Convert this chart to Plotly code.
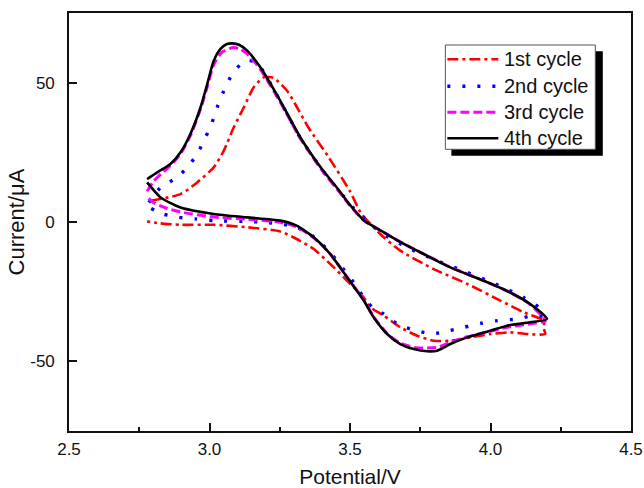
import plotly.graph_objects as go

# ---- data (Potential / V, Current / uA) ----
c1_x = [2.790, 2.897, 2.956, 3.015, 3.051, 3.086, 3.122, 3.157, 3.193, 3.228, 3.276, 3.318, 3.352,
        3.425, 3.500, 3.540, 3.573, 3.620, 3.679, 3.798, 3.917, 4.035, 4.118, 4.189, 4.190,
        4.195, 4.130, 4.070, 4.000, 3.929, 3.857, 3.798, 3.739, 3.679, 3.620, 3.573, 3.549,
        3.490, 3.430, 3.371, 3.310, 3.252, 3.134, 3.015, 2.897, 2.826, 2.778]
c1_y = [7.6, 10.0, 14.2, 19.6, 25.6, 33.9, 41.1, 48.3, 51.9, 51.7, 47.1, 40.0, 33.9,
        23.1, 11.0, 3.0, -0.7, -5.5, -10.3, -16.9, -22.2, -28.2, -32.4, -35.4, -38.4,
        -40.2, -40.2, -39.6, -40.2, -41.4, -42.6, -42.6, -40.8, -37.8, -33.6, -30.6, -27.1,
        -21.1, -15.1, -9.7, -6.1, -3.4, -1.9, -1.0, -1.0, -0.5, 0.2]

c2_x = [2.784, 2.826, 2.885, 2.926, 2.956, 2.986, 3.009, 3.027, 3.051, 3.081, 3.110, 3.135, 3.160,
        3.190, 3.252, 3.323, 3.400, 3.460, 3.513, 3.608, 3.703, 3.810, 3.917, 4.017, 4.118,
        4.171, 4.189,
        4.148, 4.095, 4.024, 3.964, 3.905, 3.852, 3.792, 3.739, 3.679, 3.620, 3.579, 3.549,
        3.513, 3.430, 3.371, 3.310, 3.252, 3.193, 3.134, 3.015, 2.950, 2.891, 2.832, 2.790]
c2_y = [7.0, 12.4, 16.0, 20.2, 24.4, 30.4, 35.7, 41.1, 47.1, 53.1, 56.5, 58.0, 57.5,
        54.3, 43.3, 30.2, 18.8, 11.3, 5.0, -3.7, -9.1, -13.9, -18.1, -22.2, -27.1,
        -30.6, -33.6,
        -33.6, -34.8, -35.4, -36.4, -37.8, -39.0, -40.2, -39.0, -37.2, -33.0, -30.6, -27.1,
        -21.7, -11.0, -5.3, -1.9, -0.7, -0.1, 0.2, 0.5, 1.1, 1.7, 2.9, 5.0]

c3_x = [2.778, 2.800, 2.830, 2.861, 2.897, 2.932, 2.968, 2.992, 3.015, 3.045, 3.086, 3.110, 3.140,
        3.181, 3.252, 3.323, 3.400, 3.460, 3.501, 3.550, 3.620, 3.680, 3.739, 3.857, 3.976,
        4.070, 4.141, 4.195,
        4.141, 4.059, 4.000, 3.917, 3.857, 3.810, 3.774, 3.727, 3.679, 3.632, 3.584, 3.549,
        3.490, 3.430, 3.371, 3.310, 3.252, 3.134, 3.015, 2.897, 2.840, 2.800, 2.778]
c3_y = [11.0, 14.5, 17.5, 20.3, 24.5, 31.0, 40.5, 48.5, 56.5, 61.0, 62.6, 62.0, 59.8,
        54.8, 43.0, 30.0, 18.6, 11.0, 5.8, 0.5, -3.7, -7.2, -10.3, -16.2, -21.0,
        -25.3, -29.6, -35.5,
        -36.5, -37.8, -39.2, -41.2, -43.2, -45.0, -45.2, -45.0, -43.5, -40.0, -34.0, -28.0,
        -19.8, -11.5, -5.7, -1.7, -0.1, 1.0, 1.8, 3.6, 5.2, 7.0, 9.0]

c4_x = [2.778, 2.814, 2.861, 2.897, 2.932, 2.968, 2.992, 3.015, 3.039, 3.060, 3.081, 3.105, 3.134,
        3.181, 3.252, 3.323, 3.400, 3.460, 3.501, 3.550, 3.620, 3.680, 3.739, 3.857, 3.976,
        4.070, 4.141, 4.201,
        4.141, 4.059, 4.000, 3.917, 3.857, 3.810, 3.774, 3.727, 3.679, 3.632, 3.584, 3.549,
        3.490, 3.430, 3.371, 3.310, 3.252, 3.134, 3.015, 2.897, 2.826, 2.778]
c4_y = [15.4, 17.8, 20.8, 25.0, 31.6, 41.1, 49.5, 57.9, 62.1, 63.8, 64.1, 63.6, 61.5,
        55.5, 43.5, 30.4, 19.0, 11.5, 6.0, 0.5, -3.7, -7.2, -10.3, -16.3, -21.1,
        -25.3, -29.4, -34.8,
        -36.0, -37.2, -39.0, -41.4, -43.8, -46.2, -46.4, -45.6, -43.8, -40.2, -34.2, -28.2,
        -19.9, -11.5, -5.5, -1.3, 0.5, 1.65, 2.9, 5.2, 8.8, 14.2]

series_names = ["1st cycle", "2nd cycle", "3rd cycle", "4th cycle"]
x_tick_vals = [2.5, 3.0, 3.5, 4.0, 4.5]
x_tick_text = ["2.5", "3.0", "3.5", "4.0", "4.5"]
y_tick_vals = [-50, 0, 50]
y_tick_text = ["-50", "0", "50"]

FONT = "Arial, 'Liberation Sans', sans-serif"

styles = [
    dict(color="#ff0000", width=2.6, dash="11px,4px,3px,4px"),
    dict(color="#0000ff", width=3.4, dash="3px,12px"),
    dict(color="#ff00ff", width=3.0, dash="9px,4px"),
    dict(color="#000000", width=2.6, dash="solid"),
]
xs = [c1_x, c2_x, c3_x, c4_x]
ys = [c1_y, c2_y, c3_y, c4_y]

fig = go.Figure()
for name, x, y, st in zip(series_names, xs, ys, styles):
    fig.add_trace(go.Scatter(x=x, y=y, mode="lines", name=name, showlegend=False,
                             line=dict(shape="spline", smoothing=0.6, **st)))

W, H = 644, 488
L, R, T, B = 68.5, 13.3, 12.7, 57.3
pw, ph = W - L - R, H - T - B

def px_to_paper(px, py):
    return (px - L) / pw, (H - B - py) / ph

# ---- legend drawn as a framed box with a drop shadow ----
sx0, sy0 = px_to_paper(451, 155.5)
sx1, sy1 = px_to_paper(602.5, 51)
fig.add_shape(type="rect", xref="paper", yref="paper", x0=sx0, y0=sy0, x1=sx1, y1=sy1,
              fillcolor="black", line=dict(width=0), layer="above")
bx0, by0 = px_to_paper(445, 149)
bx1, by1 = px_to_paper(595, 44.7)
fig.add_shape(type="rect", xref="paper", yref="paper", x0=bx0, y0=by0, x1=bx1, y1=by1,
              fillcolor="white", line=dict(width=1, color="#555555"), layer="above")
item_rows = [59, 86, 112, 138]
for name, st, row in zip(series_names, styles, item_rows):
    ax0, ay = px_to_paper(447, row)
    ax1, _ = px_to_paper(498, row)
    fig.add_shape(type="line", xref="paper", yref="paper", x0=ax0, x1=ax1, y0=ay, y1=ay,
                  line=dict(color=st["color"], width=st["width"], dash=st["dash"]),
                  layer="above")
    tx, _ = px_to_paper(502, row)
    fig.add_annotation(xref="paper", yref="paper", x=tx, y=ay, text=name, showarrow=False,
                       xanchor="left", yanchor="middle",
                       font=dict(size=20, family=FONT, color="#111111"))

fig.update_layout(
    width=W, height=H,
    margin=dict(l=L, r=R, t=T, b=B, pad=0, autoexpand=False),
    paper_bgcolor="white", plot_bgcolor="white",
    font=dict(family=FONT, color="#111111", size=17),
    showlegend=False,
    xaxis=dict(range=[2.5, 4.5], tickvals=x_tick_vals, ticktext=x_tick_text,
               ticks="inside", ticklen=8, tickwidth=1.5, tickcolor="#111111",
               showline=True, linecolor="#111111", linewidth=1.6, mirror=True,
               showgrid=False, zeroline=False, automargin=False,
               minor=dict(dtick=0.25, tick0=2.5, ticks="inside", ticklen=4, tickwidth=1.5,
                          tickcolor="#111111", showgrid=False),
               ticklabelstandoff=2,
               title=dict(text="Potential/V", font=dict(size=21, family=FONT), standoff=26)),
    yaxis=dict(range=[-75, 75], tickvals=y_tick_vals, ticktext=y_tick_text,
               ticks="inside", ticklen=8, tickwidth=1.5, tickcolor="#111111",
               showline=True, linecolor="#111111", linewidth=1.6, mirror=True,
               showgrid=False, zeroline=False, ticklabelstandoff=9, automargin=False,
               title=dict(text="Current/μA", font=dict(size=22, family=FONT), standoff=0)),
)

fig.write_html("out.html")
